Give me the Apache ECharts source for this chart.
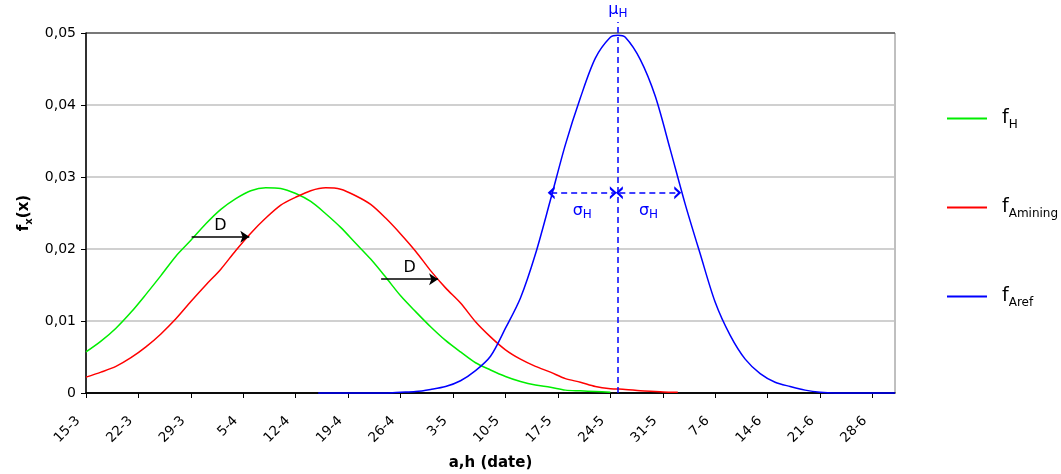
<!DOCTYPE html>
<html>
<head>
<meta charset="utf-8">
<title>fx(x)</title>
<script src="https://cdn.jsdelivr.net/npm/echarts@6/dist/echarts.min.js"></script>
<style>
  html, body { margin: 0; padding: 0; background: #fff; }
  #chart { width: 1061px; height: 474px; }
</style>
</head>
<body>
<div id="chart"></div>
<script>
// days counted from 15-3
var tickLabels = ['15-3', '22-3', '29-3', '5-4', '12-4', '19-4', '26-4', '3-5', '10-5', '17-5', '24-5', '31-5', '7-6', '14-6', '21-6', '28-6']

var hDays = [0, 2, 4, 6, 8, 10, 12, 14, 16, 18, 20, 22, 24, 26, 28, 30, 32, 34, 36, 38, 40, 42, 44, 46, 48, 50, 52, 54, 56, 58, 60, 62, 64, 66, 68, 70]
var hVals = [0.0057, 0.0072, 0.0090, 0.0112, 0.0137, 0.0163, 0.0190, 0.0212, 0.0235, 0.0255, 0.0270, 0.0281, 0.0285, 0.0284, 0.0277, 0.0266, 0.0249, 0.0230, 0.0208, 0.0186, 0.0161, 0.0135, 0.0113, 0.0092, 0.0073, 0.0057, 0.0042, 0.0032, 0.0023, 0.0016, 0.0011, 0.0008, 0.0004, 0.0003, 0.0002, 0.0001]

var aminDays = [0, 2, 4, 6, 8, 10, 12, 14, 16, 18, 20, 22, 24, 26, 28, 30, 32, 34, 36, 38, 40, 42, 44, 46, 48, 50, 52, 54, 56, 58, 60, 62, 64, 66, 68, 70, 72, 74, 76, 78, 79]
var aminVals = [0.0022, 0.0029, 0.0037, 0.0049, 0.0064, 0.0082, 0.0103, 0.0127, 0.0150, 0.0172, 0.0198, 0.0222, 0.0243, 0.0261, 0.0272, 0.0281, 0.0285, 0.0283, 0.0274, 0.0262, 0.0243, 0.0221, 0.0197, 0.0170, 0.0146, 0.0125, 0.0099, 0.0078, 0.0060, 0.0047, 0.0037, 0.0029, 0.0020, 0.0015, 0.0009, 0.0006, 0.0005, 0.0003, 0.0002, 0.0001, 0.0001]

var arefDays = [31, 40, 42, 44, 46, 48, 50, 52, 54, 56, 58, 60, 62, 64, 66, 68, 70, 71, 72, 74, 76, 78, 80, 82, 84, 86, 88, 90, 92, 94, 96, 98, 100, 108]
var arefVals = [0, 0, 0.0001, 0.0002, 0.0005, 0.0009, 0.0017, 0.0031, 0.0051, 0.0090, 0.0132, 0.0193, 0.0268, 0.0345, 0.0410, 0.0465, 0.0494, 0.0497, 0.0494, 0.0463, 0.0412, 0.0338, 0.0262, 0.0193, 0.0126, 0.0080, 0.0047, 0.0027, 0.0015, 0.0009, 0.0004, 0.0001, 0, 0]

// annotations
var muDay = 71
var sigmaLevel = 0.0278
var sigmaSpans = [[62.1, 70.4], [71.2, 79.0]]
var dArrows = [[14.1, 21.8, 0.0217], [39.4, 47.0, 0.0158]] // from, to, level

function zip (xs, ys) {
  return xs.map(function (x, i) { return [x, ys[i]] })
}

var chevron = 'path://M5,0 L10,7 L7.8,7 L5,3.2 L2.2,7 L0,7 Z'
var fontFam = 'DejaVu Sans'
var subRich = {
  f: { fontSize: 19, lineHeight: 24, fontFamily: fontFam, color: '#000' },
  s: { fontSize: 12, lineHeight: 12, verticalAlign: 'bottom', fontFamily: fontFam, color: '#000' }
}
var blueRich = {
  f: { fontSize: 16, lineHeight: 20, fontFamily: fontFam, color: '#0000ff' },
  s: { fontSize: 12, lineHeight: 12, verticalAlign: 'bottom', fontFamily: fontFam, color: '#0000ff' }
}
var legendNames = { fH: 'H', fAmining: 'Amining', fAref: 'Aref' }
var tickValues = tickLabels.map(function (l, i) { return i * 7 })

var chart = echarts.init(document.getElementById('chart'))

function sigmaLines () {
  return sigmaSpans.map(function (s) {
    return [
      { coord: [s[0], sigmaLevel], symbol: chevron, symbolSize: [13, 7] },
      {
        coord: [s[1], sigmaLevel],
        symbol: chevron,
        symbolSize: [13, 7],
        label: { show: true, position: 'insideMiddleBottom', distance: 8, formatter: '{f|σ}{s|H}', rich: blueRich }
      }
    ]
  })
}

var option = {
  backgroundColor: '#fff',
  animation: false,
  grid: {
    left: 86,
    right: 166,
    top: 33,
    bottom: 81,
    outerBoundsMode: 'none',
    show: true,
    borderColor: '#808080',
    borderWidth: 1
  },
  legend: {
    orient: 'vertical',
    left: 947,
    top: 109,
    padding: 0,
    icon: 'rect',
    itemWidth: 40,
    itemHeight: 2,
    itemGap: 67.5,
    data: ['fH', 'fAmining', 'fAref'],
    formatter: function (name) {
      return '{f|f}{s|' + legendNames[name] + '}'
    },
    textStyle: { rich: subRich, padding: [0, 0, 0, 10] }
  },
  xAxis: {
    type: 'value',
    min: 0,
    max: 108,
    interval: 7,
    name: 'a,h (date)',
    nameLocation: 'middle',
    nameGap: 63,
    nameTextStyle: { fontFamily: fontFam, fontWeight: 'bold', fontSize: 15, color: '#000' },
    axisLine: { show: true, lineStyle: { color: '#000', width: 1.5 } },
    axisTick: {
      show: true,
      length: 5,
      customValues: tickValues,
      lineStyle: { color: '#000' }
    },
    axisLabel: {
      rotate: 45,
      margin: 18,
      padding: [0, 11, 0, 0],
      fontFamily: fontFam,
      fontSize: 13.5,
      color: '#000',
      customValues: tickValues,
      formatter: function (v) { return tickLabels[Math.round(v / 7)] || '' }
    },
    splitLine: { show: false }
  },
  yAxis: {
    type: 'value',
    min: 0,
    max: 0.05,
    interval: 0.01,
    name: '{a|f}{b|x}{a|(x)}',
    nameLocation: 'middle',
    nameGap: 52,
    nameRotate: 90,
    nameTextStyle: {
      rich: {
        a: { fontFamily: fontFam, fontWeight: 'bold', fontSize: 15, lineHeight: 20, color: '#000' },
        b: { fontFamily: fontFam, fontWeight: 'bold', fontSize: 10, lineHeight: 10, verticalAlign: 'bottom', color: '#000' }
      }
    },
    axisLine: { show: true, lineStyle: { color: '#000', width: 1.5 } },
    axisTick: { show: true, length: 5, lineStyle: { color: '#000' } },
    axisLabel: {
      margin: 10,
      fontFamily: fontFam,
      fontSize: 14,
      color: '#000',
      formatter: function (v) { return v === 0 ? '0' : v.toFixed(2).replace('.', ',') }
    },
    splitLine: {
      show: true,
      lineStyle: { color: ['#000', '#c0c0c0', '#c0c0c0', '#c0c0c0', '#c0c0c0', '#606060'], width: 1.5 }
    }
  },
  series: [
    {
      name: 'fH',
      type: 'line',
      data: zip(hDays, hVals),
      symbol: 'none',
      smooth: 0.3,
      lineStyle: { color: '#00ee00', width: 1.5 },
      itemStyle: { color: '#00ee00' },
      clip: false,
      markLine: {
        silent: true,
        symbol: ['none', 'arrow'],
        symbolSize: 9,
        lineStyle: { color: '#000', width: 1.5, type: 'solid' },
        label: {
          show: true,
          position: 'insideMiddleTop',
          formatter: 'D',
          fontFamily: fontFam,
          fontSize: 16,
          color: '#000',
          distance: 3
        },
        data: dArrows.map(function (a) {
          return [{ coord: [a[0], a[2]] }, { coord: [a[1], a[2]] }]
        })
      }
    },
    {
      name: 'fAmining',
      type: 'line',
      data: zip(aminDays, aminVals),
      symbol: 'none',
      smooth: 0.3,
      lineStyle: { color: '#ff0000', width: 1.5 },
      itemStyle: { color: '#ff0000' }
    },
    {
      name: 'fAref',
      type: 'line',
      data: zip(arefDays, arefVals),
      symbol: 'none',
      smooth: 0.3,
      lineStyle: { color: '#0000ff', width: 1.5 },
      itemStyle: { color: '#0000ff' },
      clip: false,
      markLine: {
        silent: true,
        lineStyle: { color: '#0000ff', width: 1.5, type: [6, 4] },
        data: sigmaLines()
      }
    }
  ]
}

chart.setOption(option)

// the mu line runs a little above the plot area, so its top end is placed in pixels
var muTopPx = chart.convertToPixel({ gridIndex: 0 }, [muDay, 0.05])
chart.setOption({
  series: [{}, {}, {
    markLine: {
      data: [
        [
          { coord: [muDay, 0], symbol: 'none' },
          {
            x: muTopPx[0],
            y: muTopPx[1] - 11,
            symbol: 'none',
            label: { show: true, position: 'end', distance: 2, formatter: '{f|μ}{s|H}', rich: blueRich }
          }
        ]
      ].concat(sigmaLines())
    }
  }]
})
</script>
</body>
</html>
